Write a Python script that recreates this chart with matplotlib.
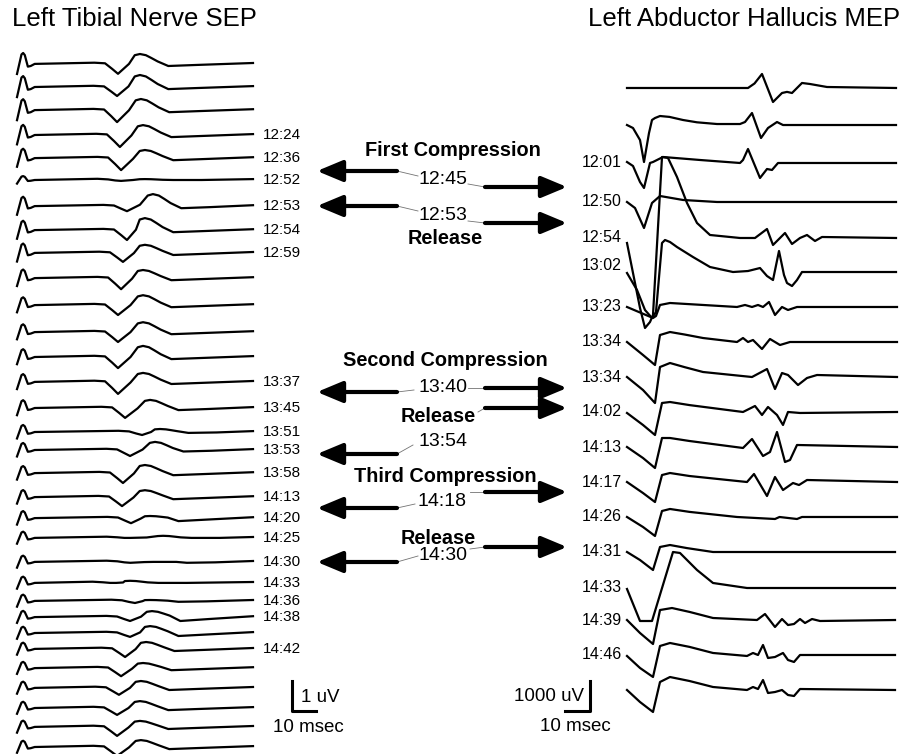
import numpy as np
import matplotlib
matplotlib.use("Agg")
import matplotlib.pyplot as plt

plt.rcParams['font.family'] = ['Liberation Sans', 'DejaVu Sans']

# ---------------- Left Tibial Nerve SEP (uV, msec) ----------------
sep_offset = [-2.13, -2.90, -3.67, -4.50, -5.27, -6.00, -6.87, -7.67, -8.43, -9.27,
              -10.17, -11.07, -11.90, -12.73, -13.60, -14.40, -15.00, -15.77, -16.57, -17.27,
              -17.93, -18.73, -19.43, -20.03, -20.57, -21.10, -21.63, -22.27, -22.93, -23.60,
              -24.23, -24.90]
sep_dip_ms = [42.8, 42.4, 42.4, 43.6, 44.1, 44.1, 46.6, 46.6, 44.9, 44.1,
              42.8, 42.8, 42.8, 42.8, 45.8, 53.0, 47.9, 44.9, 44.5, 48.3,
              48.0, 48.0, 42.0, 50.0, 47.9, 47.9, 45.8, 44.1, 43.2, 42.4,
              42.4, 42.4]
sep_dip_uv = [0.33, 0.30, 0.40, 0.40, 0.40, 0.03, 0.17, 0.33, 0.30, 0.37,
              0.33, 0.33, 0.37, 0.40, 0.33, 0.10, 0.20, 0.33, 0.30, 0.17,
              0.00, 0.03, 0.00, 0.07, 0.13, 0.13, 0.27, 0.27, 0.23, 0.23,
              0.30, 0.30]
sep_peak_ms = [52.1, 52.1, 52.5, 53.4, 54.2, 54.2, 57.6, 54.2, 54.2, 53.4,
               53.4, 53.4, 53.4, 53.4, 56.4, 60.6, 58.5, 54.2, 54.2, 56.4,
               61.9, 60.0, 47.9, 56.4, 57.2, 56.4, 54.7, 53.4, 52.5, 52.1,
               52.1, 52.5]
sep_peak_uv = [0.33, 0.40, 0.37, 0.33, 0.27, 0.03, 0.40, 0.40, 0.27, 0.27,
               0.33, 0.33, 0.37, 0.30, 0.27, 0.10, 0.27, 0.27, 0.23, 0.07,
               0.07, 0.00, 0.07, 0.03, 0.20, 0.23, 0.23, 0.17, 0.23, 0.23,
               0.20, 0.23]
sep_trough_uv = [0.07, 0.07, 0.07, 0.07, 0.07, 0.0, 0.07, 0.07, 0.07, 0.07,
                 0.07, 0.07, 0.07, 0.07, 0.07, 0.03, 0.05, 0.07, 0.07, 0.10,
                 0.0, 0.03, 0.0, 0.03, 0.13, 0.10, 0.07, 0.07, 0.07, 0.07,
                 0.07, 0.07]
sep_artifact_uv = [0.70, 0.70, 0.70, 0.65, 0.60, 0.25, 0.60, 0.60, 0.60, 0.55,
                   0.50, 0.50, 0.50, 0.50, 0.50, 0.45, 0.45, 0.45, 0.45, 0.45,
                   0.40, 0.40, 0.40, 0.40, 0.40, 0.40, 0.40, 0.40, 0.40, 0.40,
                   0.40, 0.40]
sep_labels = {3: '12:24', 4: '12:36', 5: '12:52', 6: '12:53', 7: '12:54', 8: '12:59',
              13: '13:37', 14: '13:45', 15: '13:51', 16: '13:53', 17: '13:58',
              18: '14:13', 19: '14:20', 20: '14:25', 21: '14:30', 22: '14:33',
              23: '14:36', 24: '14:38', 26: '14:42'}

# ---------------- Left Abductor Hallucis MEP (uV, msec) ----------------
mep_offset = [-2933, -4167, -5433, -6733, -7933, -9067, -10233, -11400, -12567,
              -13733, -14900, -16067, -17233, -18400, -19600, -20667, -21833, -23000]
mep_ms = [
    [0, 48.4, 51, 54, 56.2, 58.4, 62, 64, 66, 70, 73.2, 80, 107.6],
    [0, 2.4, 5.2, 6.8, 8.8, 10, 11.2, 13.2, 17, 22.4, 28, 36, 45.2, 47.2, 50, 53.6, 56.4, 60,
     62.4, 107.6],
    [0, 2.4, 5.2, 6.8, 9.2, 10.4, 14.4, 29.2, 45.2, 46.4, 48.4, 53.2, 56, 58, 60.4, 107.6],
    [0, 3.2, 6.8, 10, 13.2, 22.4, 36, 107.6],
    [0, 2.4, 5.2, 7.2, 9.2, 10.4, 14, 16.4, 20, 24, 28, 33.2, 45.2, 51.2, 56, 58.4, 63.2, 66,
     69.2, 72, 75.2, 78, 107.6],
    [0, 4, 7.2, 10, 11.6, 14, 15.2, 17.2, 20, 26.4, 33.2, 42.4, 48.4, 53.2, 56, 58.4, 60.8,
     62.8, 64, 66, 68, 70, 107.6],
    [0, 10.4, 11.6, 13.2, 17.2, 44, 47.2, 50, 52.4, 54.4, 56.8, 59.2, 62, 64.4, 68, 108],
    [0, 6.4, 11.2, 13.2, 17.2, 23, 30.4, 44, 46.4, 48.4, 50.4, 54, 57.2, 61.2, 65.2, 108],
    [0, 6.4, 11.2, 13.2, 17.2, 23, 30.4, 50, 56, 59.2, 62, 64.4, 68.4, 72, 76, 108],
    [0, 6.4, 11.2, 14, 17.2, 25, 46.4, 51.2, 54, 56.4, 60, 62.4, 64.4, 69.2, 108],
    [0, 6.4, 11.2, 14, 17.2, 25, 46.4, 50, 54.4, 57.2, 60, 63.2, 65.2, 68, 108],
    [0, 6.4, 11.2, 14, 17.2, 25, 48, 50.8, 56, 59.2, 62.4, 66.4, 68.8, 72, 108],
    [0, 6.4, 11.2, 14, 17.2, 25, 44, 59.2, 61, 68, 70, 108],
    [0, 5.2, 10.4, 13.2, 17.2, 24, 34.4, 107.2],
    [0, 5.2, 10, 18.4, 21.2, 28, 34.4, 48, 107.2],
    [0, 5.2, 10.4, 13.2, 18, 25, 34.4, 52, 55.2, 59.2, 62, 64.4, 66.8, 69.2, 71.2, 74, 77.2,
     107.2],
    [0, 5.2, 10.4, 13.2, 17.2, 25, 34.4, 48, 50.4, 52.4, 54.4, 56.4, 59.2, 62.4, 64.4, 66.8,
     69.2, 107.2],
    [0, 5.2, 10.4, 13.2, 17.2, 25, 34.4, 48, 50.4, 52.4, 54.4, 56.4, 59.2, 62, 64.4, 66.8,
     69.2, 107.2],
]
mep_uv = [
    [0, 0, 150, 467, 0, -467, -167, -130, -167, 167, 133, 33, 0],
    [0, -100, -500, -1233, -267, 167, 233, 300, 270, 167, 90, 33, 33, 100, 400, -433, -100,
     100, 0, 0],
    [33, -100, -633, -833, 0, 33, 200, 100, 0, 100, 467, -500, -200, -233, 0, 0],
    [0, -200, -867, -33, 200, 67, 0, 0],
    [-167, -1167, -2333, -3000, -2800, -2567, 2700, 2667, 2033, 1167, 500, 100, 0, 0, 300,
     -233, 167, -200, 0, 100, -100, 33, 0],
    [-33, -600, -1267, -1533, -1333, 967, 1067, 1000, 833, 500, 167, 0, 33, 133, -133, -267,
     700, -100, -367, -467, -267, 0, 0],
    [0, -367, -300, 67, 133, 0, 67, 0, 67, 0, 167, -267, 0, -100, 0, 0],
    [0, -433, -767, 233, 333, 250, 133, 0, 133, 0, 67, -233, 100, -100, 0, 0],
    [0, -433, -867, 333, 467, 330, 167, 0, 267, -400, 133, 67, -267, -33, 67, 0],
    [-33, -433, -767, 300, 333, 230, 0, 200, -100, 167, -100, -433, 0, -33, 0],
    [0, -367, -700, 300, 300, 200, -33, 267, -300, -167, 500, -500, -433, 67, 0],
    [0, -367, -667, 233, 300, 200, 0, 267, -467, 167, -267, -33, -100, 67, 0],
    [0, -333, -633, 200, 267, 170, 0, -67, 0, -67, 0, 0],
    [0, -267, -600, 167, 233, 130, 0, 0],
    [-33, -1100, -1100, 1200, 1167, 600, 167, 0, 0],
    [0, -433, -800, 333, 400, 270, 67, 0, 200, -233, 33, -167, -133, 33, -100, 33, -33, 0],
    [-33, -433, -733, 300, 400, 270, 67, -33, 67, 0, 333, -100, -67, 67, -167, -233, 0, 0],
    [0, -400, -733, 267, 433, 300, 100, 0, 100, 33, 333, -100, -67, 0, -167, -200, 33, 0],
]
mep_labels = {2: '12:01', 3: '12:50', 4: '12:54', 5: '13:02', 6: '13:23', 7: '13:34',
              8: '13:34', 9: '14:02', 10: '14:13', 11: '14:17', 12: '14:26', 13: '14:31',
              14: '14:33', 15: '14:39', 16: '14:46'}
mep_label_shift = {5: 230}

# ---------------- middle annotations ----------------
events = [('First Compression', True), ('12:45', False), ('12:53', False), ('Release', True),
          ('Second Compression', True), ('13:40', False), ('Release', True), ('13:54', False),
          ('Third Compression', True), ('14:18', False), ('Release', True), ('14:30', False)]
event_xy = [(453, 151), (443, 179), (443, 216), (445, 239), (445, 361), (443, 388),
            (438, 417), (443, 441), (445, 477), (442, 501), (438, 538), (443, 555)]
left_arrow_y = [171, 206, 392, 454, 508, 562]
right_arrow_y = [187, 223, 388, 408, 492, 547]
leaders = [((397, 171), (418, 176)), ((468, 184), (485, 187)),
           ((397, 206), (418, 211)), ((468, 221), (485, 223)),
           ((397, 392), (414, 390)), ((468, 388), (485, 388)),
           ((478, 412), (485, 408)), ((397, 454), (413, 445)),
           ((470, 492), (485, 492)), ((397, 508), (415, 504)),
           ((470, 549), (485, 547)), ((397, 562), (418, 556))]

W, H = 908, 754
fig = plt.figure(figsize=(W / 100, H / 100), dpi=100)
fig.patch.set_facecolor('white')

# SEP axes: 2.36 px per msec, 30 px per uV, sweep starts at x=17 px
sep_px_ms, sep_px_uv, sep_x0 = 2.36, 30.0, 17
ax_sep = fig.add_axes([0, 0, 1, 1])
ax_sep.set_xlim(-sep_x0 / sep_px_ms, (W - sep_x0) / sep_px_ms)
ax_sep.set_ylim(-H / sep_px_uv, 0)
ax_sep.axis('off')

for i, off in enumerate(sep_offset):
    a = sep_artifact_uv[i]
    d, dv = sep_dip_ms[i], sep_dip_uv[i]
    p, pv = sep_peak_ms[i], sep_peak_uv[i]
    tr = sep_trough_uv[i]
    t = [0, 1.9, 2.6, 3.3, 4.6, 5.8, 7.5, d - 10, d - 5.5, d - 2.5, d, (d + p) / 2,
         p - 2.2, p, p + 2.5, p + 4.8, p + 7.5, p + 12, p + 24, 100]
    v = [-0.48 * a, 0.45 * a, 0.52 * a, 0.42 * a, -0.13 * a, -0.1 * a, 0.0, 0.04, 0.02,
         -0.5 * dv, -dv, (pv - dv) * 0.2, 0.88 * pv, pv, 0.88 * pv, 0.6 * pv, 0.25 * pv,
         -tr, -0.5 * tr, 0.03]
    ax_sep.plot(t, np.array(v) + off, color='black', lw=1.6, solid_joinstyle='round')
    if i in sep_labels:
        ax_sep.text(104, off, sep_labels[i], fontsize=11, va='center', ha='left')

# SEP scale bar: 1 uV x 10 msec
sb_t, sb_v = 116.5, -23.7
ax_sep.plot([sb_t, sb_t, sb_t + 10], [sb_v + 1, sb_v, sb_v], color='black', lw=2.2)
ax_sep.text(sb_t + 4, sb_v + 0.45, '1 uV', fontsize=13.5, va='center', ha='left')
ax_sep.text(sb_t + 7, sb_v - 0.55, '10 msec', fontsize=13.5, va='center', ha='center')

# MEP axes: 2.5 px per msec, 30 px per 1000 uV, sweep starts at x=627 px
mep_px_ms, mep_px_uv, mep_x0 = 2.5, 0.03, 627
ax_mep = fig.add_axes([0, 0, 1, 1])
ax_mep.patch.set_alpha(0)
ax_mep.set_xlim(-mep_x0 / mep_px_ms, (W - mep_x0) / mep_px_ms)
ax_mep.set_ylim(-H / mep_px_uv, 0)
ax_mep.axis('off')

for i, off in enumerate(mep_offset):
    ax_mep.plot(mep_ms[i], np.array(mep_uv[i]) + off, color='black', lw=1.6,
                solid_joinstyle='round')
    if i in mep_labels:
        ax_mep.text(-2, off + mep_label_shift.get(i, 0), mep_labels[i], fontsize=11.5,
                    va='center', ha='right')

# MEP scale bar: 1000 uV x 10 msec
mb_t, mb_v = -14.8, -23700
ax_mep.plot([mb_t - 10, mb_t, mb_t], [mb_v, mb_v, mb_v + 1000], color='black', lw=2.2)
ax_mep.text(mb_t - 2.4, mb_v + 470, '1000 uV', fontsize=13.5, va='center', ha='right')
ax_mep.text(mb_t - 6, mb_v - 530, '10 msec', fontsize=13.5, va='center', ha='center')

# overlay for titles, event text and arrows (pixel coordinates)
ov = fig.add_axes([0, 0, 1, 1])
ov.patch.set_alpha(0)
ov.set_xlim(0, W)
ov.set_ylim(H, 0)
ov.axis('off')

ov.text(12, 19, 'Left Tibial Nerve SEP', fontsize=18.5, va='center', ha='left')
ov.text(900, 19, 'Left Abductor Hallucis MEP', fontsize=18.5, va='center', ha='right')

for (txt, bold), (x, y) in zip(events, event_xy):
    ov.text(x, y, txt, fontsize=14.3 if bold else 14, fontweight='bold' if bold else 'normal',
            va='center', ha='center')

arrow_style = dict(arrowstyle='-|>,head_length=1.2,head_width=0.5', mutation_scale=13,
                   lw=3, color='black', shrinkA=0, shrinkB=0)
for y in left_arrow_y:
    ov.annotate('', xy=(317, y), xytext=(397, y), arrowprops=arrow_style)
for y in right_arrow_y:
    ov.annotate('', xy=(567, y), xytext=(485, y), arrowprops=arrow_style)
for (x1, y1), (x2, y2) in leaders:
    ov.plot([x1, x2], [y1, y2], color='0.45', lw=0.6)

fig.savefig('out.png', dpi=100, facecolor='white')
